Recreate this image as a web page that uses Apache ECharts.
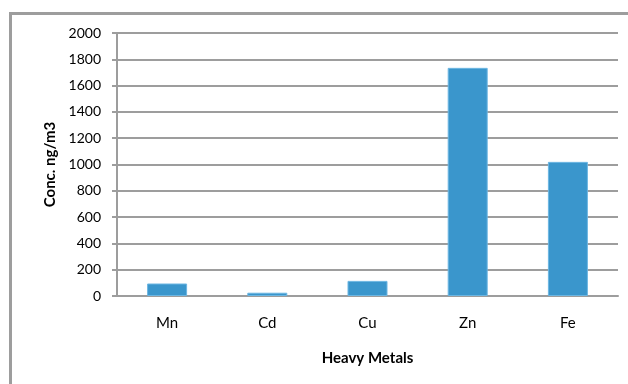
<!DOCTYPE html>
<html>
<head>
<meta charset="utf-8">
<script src="https://cdn.jsdelivr.net/npm/echarts@6/dist/echarts.min.js"></script>
<style>
  html, body { margin: 0; padding: 0; background: #ffffff; }
  #chart { width: 628px; height: 384px; }
</style>
</head>
<body>
<div id="chart"></div>
<script>
// Heavy metal concentrations (ng/m3)
const metals = ['Mn', 'Cd', 'Cu', 'Zn', 'Fe'];
const concentrations = [95, 25, 115, 1735, 1020];
const yTicks = { min: 0, max: 2000, interval: 200 };

const FONT = 'Lato, "Liberation Sans", sans-serif';
const GREY = '#9d9d9d';

const chart = echarts.init(document.getElementById('chart'), null, { renderer: 'canvas' });

chart.setOption({
  backgroundColor: '#ffffff',
  animation: false,
  grid: { left: 117, right: 10, top: 33, bottom: 88, containLabel: false },
  graphic: [
    // frame: top and left edges
    { type: 'line', shape: { x1: 9, y1: 13.5, x2: 628, y2: 13.5 }, style: { stroke: GREY, lineWidth: 3 } },
    { type: 'line', shape: { x1: 10.5, y1: 12, x2: 10.5, y2: 384 }, style: { stroke: GREY, lineWidth: 3 } }
  ],
  xAxis: {
    type: 'category',
    data: metals,
    name: 'Heavy Metals',
    nameLocation: 'middle',
    nameGap: 55,
    nameTextStyle: { fontFamily: FONT, fontWeight: 'bold', fontSize: 15, color: '#000' },
    axisLine: { lineStyle: { color: GREY, width: 2 } },
    axisTick: { show: false },
    axisLabel: { fontFamily: FONT, fontSize: 15, color: '#000', margin: 20 }
  },
  yAxis: {
    type: 'value',
    min: yTicks.min,
    max: yTicks.max,
    interval: yTicks.interval,
    name: 'Conc. ng/m3',
    nameLocation: 'middle',
    nameGap: 56,
    nameRotate: 90,
    nameTextStyle: { fontFamily: FONT, fontWeight: 'bold', fontSize: 15, color: '#000' },
    axisLine: { show: true, lineStyle: { color: GREY, width: 2 } },
    axisTick: { show: true, length: 5, lineStyle: { color: GREY, width: 2 } },
    axisLabel: { fontFamily: FONT, fontSize: 14, color: '#000', margin: 16, formatter: v => String(v) },
    splitLine: { show: true, lineStyle: { color: GREY, width: 2 } }
  },
  series: [{
    type: 'bar',
    data: concentrations,
    barWidth: 40,
    itemStyle: { color: '#3a96cc', borderColor: '#6cb6e2', borderWidth: 1 }
  }]
});
</script>
</body>
</html>
